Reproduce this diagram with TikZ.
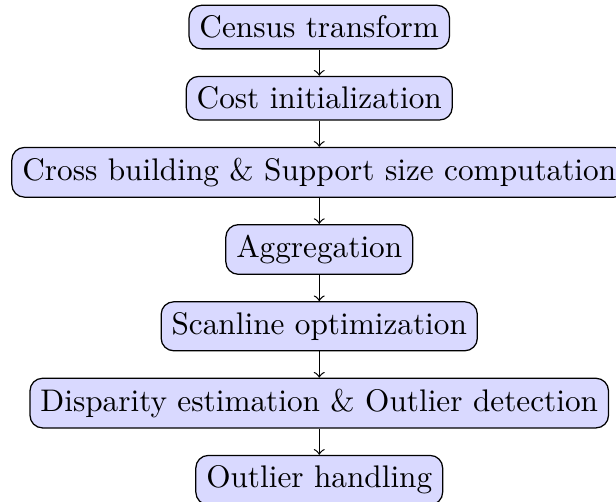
\documentclass[tikz,border=0pt]{standalone}
\usetikzlibrary{positioning,calc}
\tikzset{
  stepbox/.style={draw, rounded corners, fill=blue!15},
  flow/.style={->}
}
\begin{document}
\begin{tikzpicture}[node distance=8.4pt]
\node[stepbox] (a) {Census transform};
\node[stepbox, below=of a] (b) {Cost initialization};
\node[stepbox, below=of b] (c) {Cross building \& Support size computation};
\node[stepbox, below=of c] (d) {Aggregation};
\node[stepbox, below=of d] (e) {Scanline optimization};
\node[stepbox, below=of e] (f) {Disparity estimation \& Outlier detection};
\node[stepbox, below=of f] (g) {Outlier handling};
\draw[flow] (a) -- (b);
\draw[flow] (b) -- (c);
\draw[flow] (c) -- (d);
\draw[flow] (d) -- (e);
\draw[flow] (e) -- (f);
\draw[flow] (f) -- (g);
\pgfresetboundingbox
\useasboundingbox let \p1=(c.west), \p2=(c.east), \p3=(a.north), \n1={(\x2-\x1)*0.81494} in
  (\x1-3.6pt,\y3+1.5pt) rectangle (\x2-3.6pt,\y3+1.5pt-\n1);
\end{tikzpicture}
\end{document}
